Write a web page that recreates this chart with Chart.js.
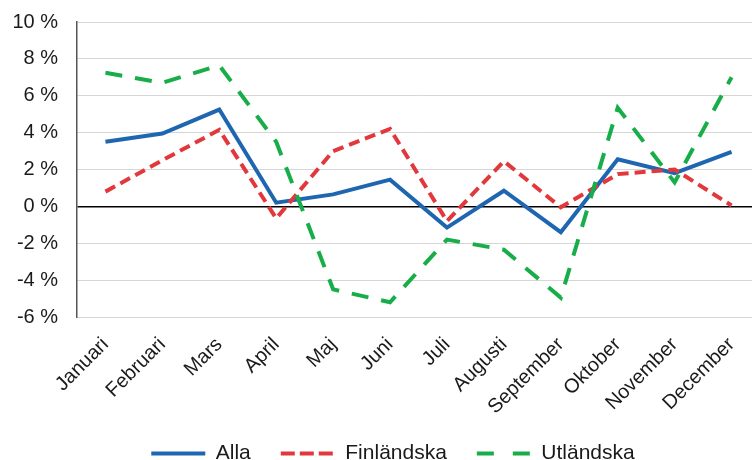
<!DOCTYPE html>
<html>
<head>
<meta charset="utf-8">
<script src="https://cdn.jsdelivr.net/npm/chart.js@4"></script>
<style>
  body { margin: 0; overflow: hidden; background: #fff; }
  #wrap { width: 762px; height: 478px; position: relative; }
</style>
</head>
<body>
<div id="wrap"><canvas id="manad-chart"></canvas></div>
<script>
const manader = ['Januari', 'Februari', 'Mars', 'April', 'Maj', 'Juni', 'Juli',
    'Augusti', 'September', 'Oktober', 'November', 'December'];
const alla = [3.5, 3.95, 5.25, 0.2, 0.65, 1.45, -1.15, 0.85, -1.4, 2.55, 1.8, 2.95];
const finlandska = [0.8, 2.5, 4.15, -0.65, 3.0, 4.2, -0.8, 2.45, -0.05, 1.75, 2.0, 0.05];
const utlandska = [7.25, 6.7, 7.65, 3.5, -4.5, -5.2, -1.8, -2.35, -4.95, 5.35, 1.3, 7.0];

const fontFamily = "'Liberation Sans', Arial, sans-serif";
const textColor = '#1a1a1a';

// streckning i förklaringen skiljer sig lite från linjerna
const legendDash = [[], [14, 5], [17, 19]];

// flytta förklaringen lite åt höger
const legendShift = {
    id: 'legendShift',
    afterLayout: (chart) => {
        if (chart.legend) {
            chart.legend.left += 13;
            chart.legend.right += 13;
        }
    }
};

let renderChart = () => {
    const data = {
        labels: manader,
        datasets: [{
            label: 'Alla',
            data: alla,
            borderColor: '#1f66b1',
            backgroundColor: '#1f66b1',
            borderWidth: 4,
            pointRadius: 0,
            tension: 0,
            order: 3
        }, {
            label: 'Finländska',
            data: finlandska,
            borderColor: '#e2383c',
            backgroundColor: '#e2383c',
            borderWidth: 4,
            borderDash: [11, 6],
            pointRadius: 0,
            tension: 0,
            order: 2
        }, {
            label: 'Utländska',
            data: utlandska,
            borderColor: '#17ae4a',
            backgroundColor: '#17ae4a',
            borderWidth: 4,
            borderDash: [17, 13],
            pointRadius: 0,
            tension: 0,
            order: 1
        }]
    };

    const config = {
        type: 'line',
        data: data,
        plugins: [legendShift],
        options: {
            responsive: true,
            maintainAspectRatio: false,
            animation: false,
            layout: { padding: { top: 22, right: 2, bottom: 4, left: 0 } },
            plugins: {
                legend: {
                    position: 'bottom',
                    labels: {
                        usePointStyle: true,
                        pointStyle: 'line',
                        pointStyleWidth: 54,
                        boxWidth: 54,
                        boxHeight: 20,
                        padding: 30,
                        color: textColor,
                        font: { family: fontFamily, size: 21 },
                        sort: (a, b) => a.datasetIndex - b.datasetIndex,
                        generateLabels: (chart) => {
                            const items = Chart.defaults.plugins.legend.labels.generateLabels(chart);
                            items.forEach(item => {
                                item.lineDash = legendDash[item.datasetIndex];
                                item.lineWidth = 4;
                            });
                            return items;
                        }
                    }
                },
                tooltip: { enabled: false }
            },
            scales: {
                x: {
                    offset: true,
                    grid: { display: false },
                    border: { display: false },
                    ticks: {
                        minRotation: 45,
                        maxRotation: 45,
                        padding: 8,
                        color: textColor,
                        font: { family: fontFamily, size: 20 }
                    },
                    afterFit: (scale) => { scale.height = 96; }
                },
                y: {
                    min: -6,
                    max: 10,
                    grid: {
                        drawTicks: true,
                        tickLength: 19,
                        tickColor: 'rgba(0,0,0,0)',
                        color: (ctx) => ctx.tick && ctx.tick.value === 0 ? '#000' : '#d6d6d6',
                        lineWidth: (ctx) => ctx.tick && ctx.tick.value === 0 ? 1.5 : 1
                    },
                    border: { color: '#555', width: 1.5 },
                    ticks: {
                        stepSize: 2,
                        padding: 0,
                        color: textColor,
                        font: { family: fontFamily, size: 20 },
                        callback: (v) => v + ' %'
                    },
                    afterFit: (scale) => { scale.width = 77; }
                }
            }
        }
    };

    const ctx = document.getElementById('manad-chart').getContext('2d');
    new Chart(ctx, config);
};

renderChart();
</script>
</body>
</html>
